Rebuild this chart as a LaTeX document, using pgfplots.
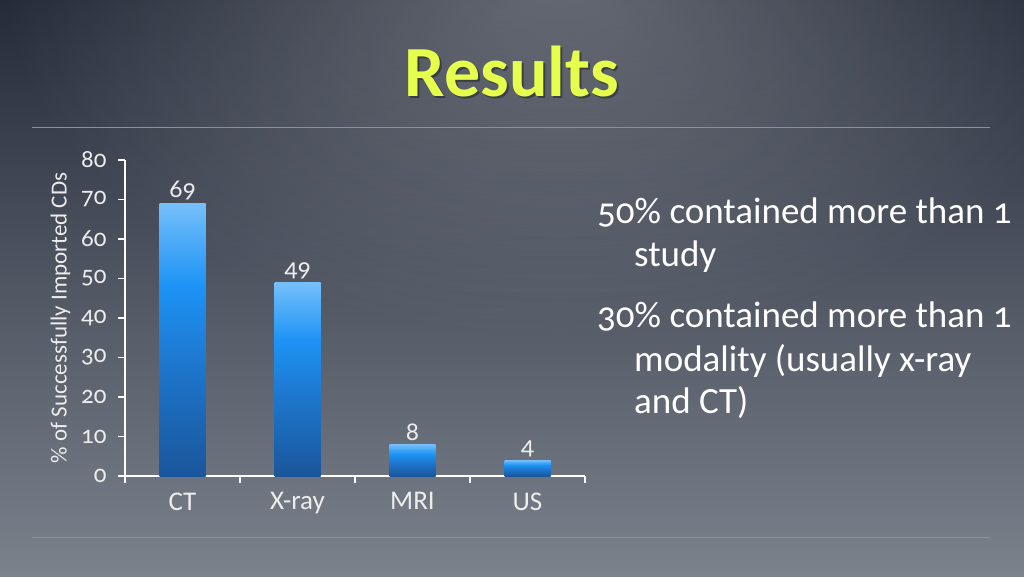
\documentclass[border=0pt]{standalone}
\usepackage{pgfplots}
\pgfplotsset{compat=1.18}
\usepackage{fontspec}
\setmainfont{Carlito}[RawFeature=+onum]
\usetikzlibrary{fadings}
\definecolor{bgtop}{HTML}{252B39}
\definecolor{bgbot}{HTML}{7C828C}
\definecolor{rule}{HTML}{8C9199}
\definecolor{titlec}{HTML}{E6FF4C}
\definecolor{bartop}{HTML}{76BFFA}
\definecolor{barmid}{HTML}{1D93F5}
\definecolor{barlow}{HTML}{1E76CC}
\definecolor{barbot}{HTML}{1A569C}
\definecolor{txt}{HTML}{EDEDED}
\pgfdeclareverticalshading{barshade}{100bp}{color(0bp)=(barbot); color(25bp)=(barbot); color(45bp)=(barlow); color(60bp)=(barmid); color(75bp)=(bartop); color(100bp)=(bartop)}
\newcommand{\osn}[1]{\oldstylenums{#1}}
\begin{document}
\tikzfading[name=radfade, inner color=transparent!0, outer color=transparent!100]%
\begin{tikzpicture}[x=1pt,y=1pt]
\shade[top color=bgtop, bottom color=bgbot] (0,0) rectangle (1024,576);
\begin{scope}
\clip (0,0) rectangle (1024,576);
\fill[white, opacity=0.3, path fading=radfade, fit fading=true] (560,600) ellipse (560 and 360);
\end{scope}
\draw[rule, line width=1pt] (32,448) -- (990,448);
\draw[rule, line width=1pt] (32,39) -- (990,39);
\node[anchor=base, font=\fontsize{72}{80}\selectfont\bfseries, text=black, opacity=0.35] at (514,477) {Results};
\node[anchor=base, font=\fontsize{72}{80}\selectfont\bfseries, text=titlec] at (512,479) {Results};
\begin{axis}[
  at={(125pt,100pt)}, anchor=south west,
  scale only axis, width=460pt, height=316pt,
  xmin=-0.5, xmax=3.5, ymin=0, ymax=80,
  axis x line=bottom, axis y line=left,
  axis line style={draw=white, line width=1.5pt, -},
  xtick={0,1,2,3}, xticklabels={CT,X-ray,MRI,US},
  minor xtick={-0.5,0.5,1.5,2.5,3.5},
  major x tick style={draw=none},
  minor x tick style={draw=white, line width=1.5pt},
  ytick={0,10,...,80},
  yticklabel={\osn{\pgfmathprintnumber{\tick}}},
  y tick style={draw=white, line width=1.5pt},
  major tick length=7pt, minor tick length=7pt,
  tick align=outside,
  /pgf/number format/assume math mode=true,
  xticklabel style={font=\fontsize{27}{28}\selectfont, text=txt, yshift=-6pt},
  yticklabel style={font=\fontsize{25}{26}\selectfont, text=txt, xshift=-8pt},
  ylabel={\% of Successfully Imported CDs},
  every axis y label/.style={at={(ticklabel cs:0.5)}, rotate=90, anchor=south, yshift=4pt, font=\fontsize{23}{24}\selectfont, text=txt},
  every node near coord/.append style={font=\fontsize{26}{27}\selectfont, text=txt},
  barst/.style={ybar, bar width=0.4, bar shift=0pt, draw=none, shade, shading=barshade,
    nodes near coords={\osn{\pgfmathprintnumber{\pgfplotspointmeta}}}},
  clip=false,
]
\addplot[barst] coordinates {(0,69)};
\addplot[barst] coordinates {(1,49)};
\addplot[barst] coordinates {(2,8)};
\addplot[barst] coordinates {(3,4)};
\end{axis}
\begin{scope}[every node/.style={anchor=base west, font=\fontsize{37}{40}\selectfont, text=white, inner sep=0pt}]
\node at (597,352) {\osn{50}\% contained more than \osn{1}};
\node at (634,309) {study};
\node at (597,248) {\osn{30}\% contained more than \osn{1}};
\node at (634,205) {modality (usually x-ray};
\node at (634,163) {and CT)};
\end{scope}
\end{tikzpicture}
\end{document}
